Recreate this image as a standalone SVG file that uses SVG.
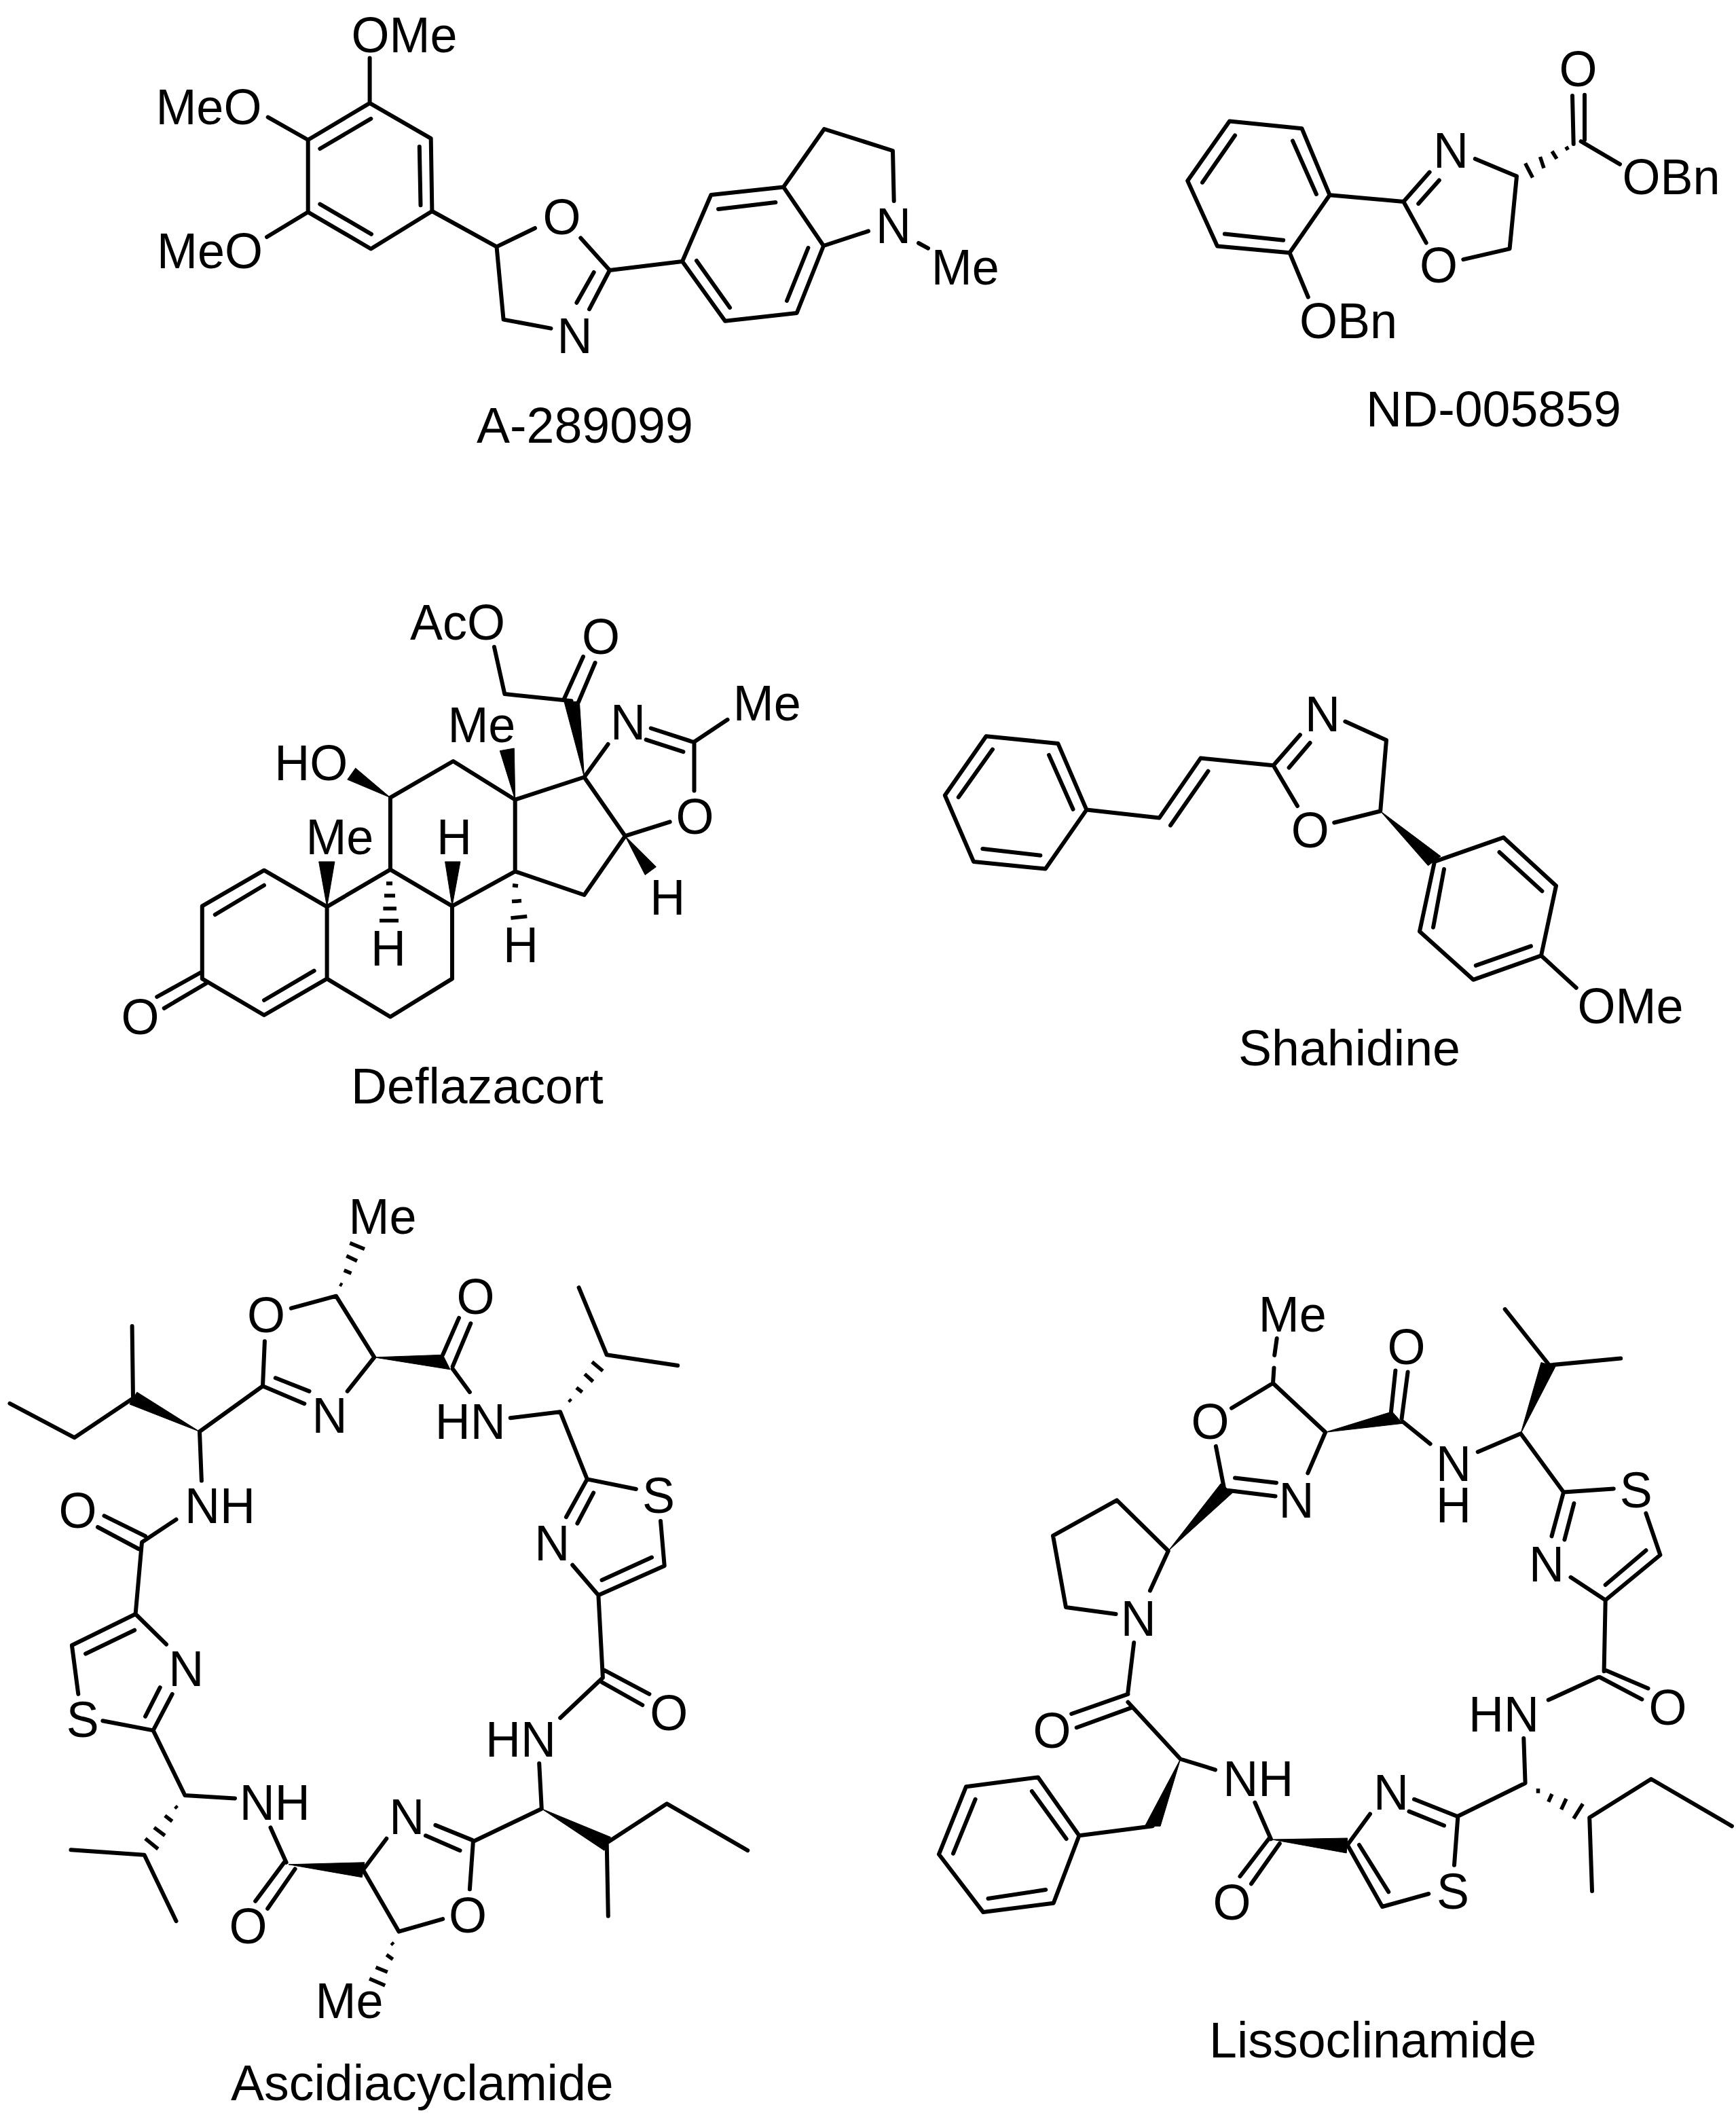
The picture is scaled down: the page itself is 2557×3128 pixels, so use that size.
<svg xmlns="http://www.w3.org/2000/svg" width="2557" height="3128" viewBox="0 0 2557 3128">
<style>
text{font-family:"Liberation Sans",Arial,sans-serif;fill:#000}
.a{font-size:75px}
.c{font-size:73.5px}
.b{fill:none;stroke:#000;stroke-width:6;stroke-linecap:round;stroke-linejoin:round}
.h{fill:none;stroke:#000;stroke-width:5.5;stroke-linecap:butt}
.w{fill:#000;stroke:#000;stroke-width:1;stroke-linejoin:round}
</style>
<rect width="2557" height="3128" fill="#fff"/>

<g id="A-289099">
<g class="connectors">
<path class="b" d="M544.6 151.8L634.7 203.8L636.4 311L546.3 366.5L453.7 312.3L453.7 206ZM544.6 85.4V151.8M394.7 172.6L453.7 206M393 349L453.7 312.3M546.3 174.8L471.3 219M617.8 216L619.5 302.3M471.3 300.6L547 344.8M636.4 311L731.5 363.4L788 336M731.5 363.4L741.6 470.6L811.5 483.6M855.3 350.4L898 398L868 455.4M874.7 401L849.4 445.8M898 398L1005 385L1047.3 287L1154 275.4L1213 362L1173.6 461L1068 472.7L1005 385M1058 308L1142.4 298M1190.4 365L1159 443M1075 453L1026 384M1154 275.4L1214 190L1315 222L1316.7 296M1213 362L1279 340.4M1353 358L1367 365.6"/>
</g>
<text class="a" textLength="156" lengthAdjust="spacingAndGlyphs" x="517.5" y="77">OMe</text>
<text class="a" textLength="156" lengthAdjust="spacingAndGlyphs" x="229.4" y="183">MeO</text>
<text class="a" textLength="156" lengthAdjust="spacingAndGlyphs" x="231" y="395">MeO</text>
<text class="a" textLength="56" lengthAdjust="spacingAndGlyphs" x="799.5" y="345">O</text>
<text class="a" textLength="52" lengthAdjust="spacingAndGlyphs" x="820.5" y="520">N</text>
<text class="a" textLength="52" lengthAdjust="spacingAndGlyphs" x="1290" y="358">N</text>
<text class="a" textLength="100" lengthAdjust="spacingAndGlyphs" x="1371.7" y="419">Me</text>
<text class="c" x="702" y="652">A-289099</text>
</g>

<g id="ND-005859">
<g class="connectors">
<path class="b" d="M1811 178.5L1917.5 189.2L1958.5 287.2L1899.5 372.2L1793 362.4L1749.2 266.3ZM1819 199.5L1771 268.7M1904 207.4L1938.9 286M1803.9 344.6L1890.2 353.7M1899.5 372.2L1926.8 437.5M1958.5 287.2L2067.3 297L2105.6 253.6M2119.8 265.5L2089.2 299.9M2067.3 297L2100.7 357.6M2172.8 233.9L2234 259.6L2223.6 366.3L2155.3 382.1M2316 141L2317.7 212M2334 139.8V206M2328.6 208.2L2386 241.8"/>
<path class="h" d="M2246.6 240.6L2257.5 261.5M2268.5 231L2274 247.7M2286 222.8L2293 233.9M2306.7 216L2309.5 220.8"/>
</g>
<text class="a" textLength="56" lengthAdjust="spacingAndGlyphs" x="2296.5" y="127">O</text>
<text class="a" textLength="52" lengthAdjust="spacingAndGlyphs" x="2111" y="247">N</text>
<text class="a" textLength="144" lengthAdjust="spacingAndGlyphs" x="2389.5" y="286">OBn</text>
<text class="a" textLength="56" lengthAdjust="spacingAndGlyphs" x="2091" y="416">O</text>
<text class="a" textLength="144" lengthAdjust="spacingAndGlyphs" x="1914" y="498">OBn</text>
<text class="c" x="2012" y="628">ND-005859</text>
</g>

<g id="Deflazacort">
<g class="connectors">
<path class="b" d="M389 1281.7L297.8 1334.3V1441.4L389 1495L481.6 1441.4V1335.3ZM389 1303.7L316.8 1347M389 1473L462.7 1429.7M297.8 1431L231.2 1468M304.9 1447.5L241.7 1484.8M481.6 1441.4L574.9 1497.5L666 1441.4V1334.3L574.9 1280.7L481.6 1335.3M574.9 1280.7V1174.6L667.5 1121L758.7 1177.7V1283.3L666 1334.3M758.7 1177.7L860.5 1144.5L920.8 1231.2L860.5 1318L758.7 1283.3M841.5 1032.2L743.3 1022L727.9 952.7M831 1029L859 967M852 1034L876.6 976M860.5 1144.5L895.6 1096M958.7 1072.5L1021.8 1093M951.6 1089.4L1006.4 1107.2M1021.8 1093L1071.6 1059.8M1022.5 1093V1164.4M920.8 1231.2L986.7 1210.3"/>
<path class="w" d="M574.9 1174.6L523.7 1131.2L511.8 1148ZM481.6 1335.3L469.7 1269H492.9ZM666 1334.3L655.6 1269H678ZM758.7 1177.7L736.3 1105.7L757.3 1102ZM860.5 1144.5L831 1033.3H853.4ZM920.8 1231.2L966.4 1276.6L950.2 1288.4Z"/>
<path class="h" d="M569 1301H578M566 1319H582M564.4 1338H584M559 1355.7H587M755 1303.7L763 1304.7M754 1327.6L768 1326.6M752.4 1352L776.3 1349.6"/>
</g>
<text class="a" textLength="140" lengthAdjust="spacingAndGlyphs" x="604" y="942">AcO</text>
<text class="a" textLength="56" lengthAdjust="spacingAndGlyphs" x="857" y="963">O</text>
<text class="a" textLength="100" lengthAdjust="spacingAndGlyphs" x="659.4" y="1093">Me</text>
<text class="a" textLength="52" lengthAdjust="spacingAndGlyphs" x="899" y="1089">N</text>
<text class="a" textLength="100" lengthAdjust="spacingAndGlyphs" x="1079.7" y="1061">Me</text>
<text class="a" textLength="108" lengthAdjust="spacingAndGlyphs" x="404.3" y="1149">HO</text>
<text class="a" textLength="100" lengthAdjust="spacingAndGlyphs" x="450.4" y="1258">Me</text>
<text class="a" textLength="52" lengthAdjust="spacingAndGlyphs" x="643" y="1258">H</text>
<text class="a" textLength="56" lengthAdjust="spacingAndGlyphs" x="995.5" y="1228">O</text>
<text class="a" textLength="52" lengthAdjust="spacingAndGlyphs" x="957.3" y="1347">H</text>
<text class="a" textLength="52" lengthAdjust="spacingAndGlyphs" x="546" y="1422">H</text>
<text class="a" textLength="52" lengthAdjust="spacingAndGlyphs" x="741" y="1417">H</text>
<text class="a" textLength="56" lengthAdjust="spacingAndGlyphs" x="178.5" y="1523">O</text>
<text class="c" x="517" y="1625">Deflazacort</text>
</g>

<g id="Shahidine">
<g class="connectors">
<path class="b" d="M1452.5 1084.2L1558.3 1094.9L1600.4 1192.6L1539.8 1279.6L1434 1268.9L1391.8 1171.2ZM1462 1103.6L1411.8 1174M1545 1111.9L1580.5 1191.8M1447.3 1249.9L1532.4 1259.8M1600.4 1192.6L1707.7 1204.4L1768.4 1116.6L1875.6 1127.3L1914.9 1082.2M1724 1215.5L1779.5 1135.6M1929.6 1094L1898.6 1130.5M1875.6 1127.3L1911 1187M1981.4 1062.5L2042 1090L2033.2 1194.5L1965.2 1211.5M2113 1268.9L2214.5 1233.3L2292 1304.5L2270 1407.3L2170 1442.8L2091 1371.7ZM2208.5 1255L2271.4 1312.4M2127 1280L2111 1365.7M2173.8 1421.9L2255 1393.4M2270 1407.3L2321.7 1454.7"/>
<path class="w" d="M2033.2 1194.5L2122 1261L2103.5 1274.8Z"/>
</g>
<text class="a" textLength="52" lengthAdjust="spacingAndGlyphs" x="1922" y="1077">N</text>
<text class="a" textLength="56" lengthAdjust="spacingAndGlyphs" x="1901.7" y="1248">O</text>
<text class="a" textLength="156" lengthAdjust="spacingAndGlyphs" x="2323.5" y="1507">OMe</text>
<text class="c" x="1824" y="1569">Shahidine</text>
</g>

<g id="Ascidiacyclamide">
<g class="connectors">
<path class="b" d="M428.8 1926.6L495 1908.7L551.3 1998.9L511.7 2048.9M389.9 1975.3L387 2041.3L448.3 2067.2M405.8 2029.3L455.5 2048.9M652.2 1995.3L676 1940.9M666.7 2012.3L693.3 1949M666.7 2015.9L691.9 2050.2M751.7 2088.2L825.2 2079.3L864.8 2178.4L936.9 2193M864.8 2178.4L833.9 2234.2M874.2 2198.4L850.4 2243.5M852.6 1896.2L893.7 1995.3L998.2 2011M843.2 2304.7L881.4 2349.3L978.7 2306L973 2240M886.5 2327L960 2293.5M881.4 2349.3L887.9 2470.7L825.2 2530M890 2459.7L956.4 2494.9M886.5 2477.3L946.3 2511M794.2 2597L797.8 2663.8L696.9 2712L691.9 2782.3M895.8 2821.8L893.7 2714L982.3 2656.3L1101.2 2725.2M641.4 2687.9L695.5 2709.9M627 2703.3L677.5 2725.2M652.2 2826.1L587.4 2844.6L534.8 2753.7L569.3 2707.7M420.2 2740.6L376.2 2799.8M434.6 2752.4L394.2 2810.8M421.6 2742.8L398.5 2691.4M346 2648.4L272.4 2644L225.6 2548.4L151.3 2534.3M225.6 2548.4L253.7 2494.9M214 2527.8L235.7 2485.2M104.5 2724.3L212.6 2731.8L259.5 2829.2M294 2108.3L387 2041.3M194.6 1953L196 2059.2L109.5 2117.2L14.4 2066.8M294 2108.3L296.9 2180.6M259.5 2237.7L209 2271.2L199.6 2377L105.9 2423L115.3 2494.9M214 2262.3L153.5 2232.4M204 2281L144 2249M198.2 2400.7L126.1 2435.5M199.6 2377L245 2421.7"/>
<path class="w" d="M551.3 1998.9L652.2 1995.3L663 2016.8ZM425.2 2745.8L536.9 2742.8L533.3 2764.7ZM797.8 2663.8L899.4 2705.5L890 2725.2ZM294 2108.3L201.8 2050.2L191 2068Z"/>
<path class="h" d="M500.5 1890.8L504 1892.8M506.7 1870.8L517.5 1875.3M510.3 1849.4L526 1857M515.3 1830.6L537 1839.5M838 2061L841 2064M849 2043.6L857.6 2050.2M861.2 2023.5L873.5 2034.6M872 2005.6L887.9 2019M258 2660L261 2663M242.9 2673.9L253.7 2682.2M227 2691.4L242.9 2703.3M214 2707.7L232.8 2723M576.5 2861L579.5 2864M569.3 2878.8L578.7 2885.4M553.5 2897.2L570.8 2904.3M544.1 2913.9L567.2 2924"/>
</g>
<text class="a" textLength="100" lengthAdjust="spacingAndGlyphs" x="513.6" y="1817">Me</text>
<text class="a" textLength="56" lengthAdjust="spacingAndGlyphs" x="364" y="1962">O</text>
<text class="a" textLength="56" lengthAdjust="spacingAndGlyphs" x="672.5" y="1935">O</text>
<text class="a" textLength="52" lengthAdjust="spacingAndGlyphs" x="459.4" y="2110">N</text>
<text class="a" textLength="104" lengthAdjust="spacingAndGlyphs" x="640.8" y="2119">HN</text>
<text class="a" textLength="104" lengthAdjust="spacingAndGlyphs" x="272" y="2243">NH</text>
<text class="a" textLength="56" lengthAdjust="spacingAndGlyphs" x="86.5" y="2250">O</text>
<text class="a" textLength="48" lengthAdjust="spacingAndGlyphs" x="946" y="2228">S</text>
<text class="a" textLength="52" lengthAdjust="spacingAndGlyphs" x="787.3" y="2298">N</text>
<text class="a" textLength="56" lengthAdjust="spacingAndGlyphs" x="957.2" y="2548">O</text>
<text class="a" textLength="104" lengthAdjust="spacingAndGlyphs" x="715" y="2587">HN</text>
<text class="a" textLength="48" lengthAdjust="spacingAndGlyphs" x="97.7" y="2558">S</text>
<text class="a" textLength="52" lengthAdjust="spacingAndGlyphs" x="248.2" y="2482.6">N</text>
<text class="a" textLength="104" lengthAdjust="spacingAndGlyphs" x="352.7" y="2680">NH</text>
<text class="a" textLength="52" lengthAdjust="spacingAndGlyphs" x="573.2" y="2701">N</text>
<text class="a" textLength="56" lengthAdjust="spacingAndGlyphs" x="337.4" y="2862">O</text>
<text class="a" textLength="56" lengthAdjust="spacingAndGlyphs" x="661" y="2846">O</text>
<text class="a" textLength="100" lengthAdjust="spacingAndGlyphs" x="464.6" y="2972">Me</text>
<text class="c" x="340" y="3093">Ascidiacyclamide</text>
</g>

<g id="Lissoclinamide">
<g class="connectors">
<path class="b" d="M1880.7 1971L1877.2 1995.9M1876.5 2014.4L1875 2037L1814 2073.7M1875 2037L1952.2 2109.3L1926.3 2169.4M1790.9 2129.9L1803.5 2194.3L1878.6 2203.4M1819 2176.6L1880 2183.7M2049 2078.9L2055.4 2018.4M2064.5 2089.6L2073.6 2020.4M2065.9 2093.5L2106.6 2126.3M2176.7 2138.2L2239.9 2111.3L2303 2197.5L2376.7 2192.4M2216.7 1928.2L2282 2010.5L2387.2 2000.6M2303 2197.5L2285.5 2262.4M2318.4 2214L2304.4 2267.5M2313.5 2322.8L2364.7 2356.5L2445.4 2290L2424.4 2228.7M2364.7 2334L2424.4 2283.3M2364.7 2356.5L2362.6 2461.2M2365.5 2460L2427.5 2486.5M2356.4 2470L2418.4 2502.7M2354 2470L2280.7 2503.5M2244.3 2560L2246.6 2626L2147.4 2674.7L2142 2746.7M2345 2785L2341.2 2676.7L2432 2620L2551 2689.3M2127 2688.5L2075.5 2667.6M2146 2674.7L2083 2649.8M2018 2671.5L1984.7 2717L2036 2808L2104.3 2789M2002 2717L2045.2 2786.2M1869.6 2707L1826.5 2763.3M1884.8 2715L1843 2774.3M1871.9 2708.3L1848.4 2654.5M1790 2606.3L1738.7 2590.5L1661.4 2506.7M1661.4 2494.8L1578.2 2524M1665.2 2515.4L1585.7 2544.2M1670.2 2419L1661 2495M1697.8 2689.3L1589.5 2703.2L1529 2617.4L1423 2631.2L1382.9 2730.8L1448 2815.9L1551.7 2802.8L1589.5 2703.2M1519.9 2638L1570.6 2708M1436.6 2649.8L1404 2729.7M1455.5 2796L1540.3 2783M1694 2342.6L1720.8 2284L1645 2209.4L1551 2261.6L1570 2367L1643.6 2377"/>
<path class="w" d="M1952.2 2109.3L2050.5 2078.9L2065.9 2096.3ZM2239.9 2111.3L2270 2006.5L2291 2012.5ZM1873.4 2709L1984.7 2707L1983.2 2728.9ZM1738.7 2590.5L1686.4 2689.3H1709.1ZM1720.8 2284L1798 2185L1815.5 2198.3Z"/>
<path class="h" d="M2265.5 2634V2640.7M2286 2642L2280.7 2653.7M2307 2649L2299.6 2664.8M2331.4 2656.5L2317.8 2678.3"/>
</g>
<text class="a" textLength="100" lengthAdjust="spacingAndGlyphs" x="1853.7" y="1961">Me</text>
<text class="a" textLength="56" lengthAdjust="spacingAndGlyphs" x="2043.5" y="2009">O</text>
<text class="a" textLength="56" lengthAdjust="spacingAndGlyphs" x="1754.5" y="2119">O</text>
<text class="a" textLength="52" lengthAdjust="spacingAndGlyphs" x="2115" y="2181">N</text>
<text class="a" textLength="52" lengthAdjust="spacingAndGlyphs" x="2115" y="2242">H</text>
<text class="a" textLength="52" lengthAdjust="spacingAndGlyphs" x="1883.5" y="2235">N</text>
<text class="a" textLength="48" lengthAdjust="spacingAndGlyphs" x="2385.8" y="2220">S</text>
<text class="a" textLength="52" lengthAdjust="spacingAndGlyphs" x="2252" y="2329">N</text>
<text class="a" textLength="52" lengthAdjust="spacingAndGlyphs" x="1650.7" y="2408.6">N</text>
<text class="a" textLength="56" lengthAdjust="spacingAndGlyphs" x="2428.5" y="2540">O</text>
<text class="a" textLength="104" lengthAdjust="spacingAndGlyphs" x="2163" y="2550">HN</text>
<text class="a" textLength="56" lengthAdjust="spacingAndGlyphs" x="1521.5" y="2574">O</text>
<text class="a" textLength="104" lengthAdjust="spacingAndGlyphs" x="1801.3" y="2645">NH</text>
<text class="a" textLength="52" lengthAdjust="spacingAndGlyphs" x="2023" y="2665">N</text>
<text class="a" textLength="48" lengthAdjust="spacingAndGlyphs" x="2116" y="2811">S</text>
<text class="a" textLength="56" lengthAdjust="spacingAndGlyphs" x="1786.5" y="2827">O</text>
<text class="c" x="1781" y="3030">Lissoclinamide</text>
</g>
</svg>
